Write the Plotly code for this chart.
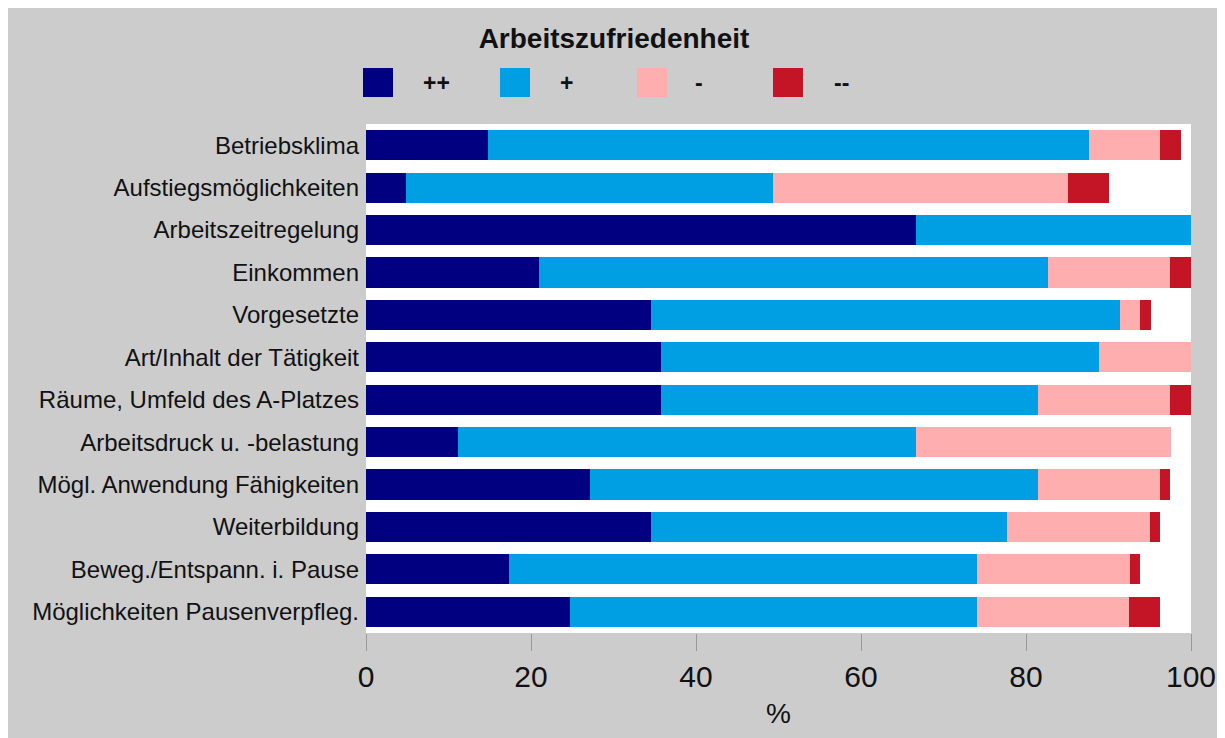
import plotly.graph_objects as go

categories = [
    "Betriebsklima",
    "Aufstiegsmöglichkeiten",
    "Arbeitszeitregelung",
    "Einkommen",
    "Vorgesetzte",
    "Art/Inhalt der Tätigkeit",
    "Räume, Umfeld des A-Platzes",
    "Arbeitsdruck u. -belastung",
    "Mögl. Anwendung Fähigkeiten",
    "Weiterbildung",
    "Beweg./Entspann. i. Pause",
    "Möglichkeiten Pausenverpfleg.",
]

very_good = [14.8, 4.9, 66.7, 21.0, 34.5, 35.8, 35.8, 11.2, 27.2, 34.5, 17.3, 24.7]
good      = [72.8, 44.4, 33.3, 61.7, 56.9, 53.1, 45.7, 55.5, 54.3, 43.2, 56.8, 49.4]
bad       = [8.6, 35.8, 0.0, 14.8, 2.4, 11.1, 16.0, 30.9, 14.7, 17.3, 18.5, 18.4]
very_bad  = [2.6, 5.0, 0.0, 2.5, 1.3, 0.0, 2.5, 0.0, 1.3, 1.3, 1.2, 3.8]

series_names = ["++", "+", "-", "--"]
series_values = [very_good, good, bad, very_bad]
series_colors = ["#000080", "#009FE3", "#FFAEB0", "#C41526"]

x_ticks = [0, 20, 40, 60, 80, 100]

# page body has an 8px margin; figure occupies (8,8)-(1217,738) of the window
OFF = 8
W, H = 1209, 730
L, R, T, B = 366 - OFF, 26, 124 - OFF, 105
PW, PH = W - L - R, H - T - B

def px_x(x):
    return (x - OFF - L) / PW

def px_y(y):
    return (H + OFF - B - y) / PH

FONT = "Liberation Sans, Arial, sans-serif"

fig = go.Figure()
for name, vals, col in zip(series_names, series_values, series_colors):
    fig.add_trace(go.Bar(
        y=categories, x=vals, name=name, orientation="h",
        marker=dict(color=col, line=dict(width=0)),
        showlegend=False,
    ))

shapes = []
annotations = []
legend_left = [363, 500, 637, 773]
legend_label_x = [436, 566, 699, 841]
for i, (name, col) in enumerate(zip(series_names, series_colors)):
    shapes.append(dict(type="rect", xref="paper", yref="paper",
                       x0=px_x(legend_left[i]), x1=px_x(legend_left[i] + 30),
                       y0=px_y(97), y1=px_y(68),
                       fillcolor=col, line=dict(width=0)))
    annotations.append(dict(text="<b>%s</b>" % name, xref="paper", yref="paper",
                            x=px_x(legend_label_x[i]), y=px_y(83),
                            xanchor="center", yanchor="middle", showarrow=False,
                            font=dict(family=FONT, size=23, color="#111111")))

annotations.append(dict(text="%", xref="paper", yref="paper",
                        x=px_x(778), y=px_y(713), xanchor="center", yanchor="middle",
                        showarrow=False, font=dict(family=FONT, size=28, color="#111111")))

fig.update_layout(
    width=W, height=H,
    margin=dict(l=L, r=R, t=T, b=B, pad=0, autoexpand=False),
    barmode="stack",
    bargap=0.29,
    paper_bgcolor="#CCCCCC",
    plot_bgcolor="white",
    title=dict(text="<b>Arbeitszufriedenheit</b>", x=(614 - OFF) / W, xref="container",
               y=1 - (38 - OFF) / H, yref="container", xanchor="center", yanchor="middle",
               font=dict(family=FONT, size=28, color="#111111")),
    shapes=shapes,
    annotations=annotations,
    xaxis=dict(range=[0, 100], tickvals=x_ticks, ticktext=[str(v) for v in x_ticks],
               ticks="outside", ticklen=17, tickwidth=1, tickcolor="#999999",
               showgrid=False, zeroline=False, showline=False, automargin=False,
               tickfont=dict(family=FONT, size=30, color="#111111"),
               fixedrange=True),
    yaxis=dict(categoryorder="array", categoryarray=categories, autorange="reversed",
               showgrid=False, zeroline=False, showline=False, ticks="", automargin=False,
               ticklabelstandoff=6,
               tickfont=dict(family=FONT, size=24, color="#111111")),
    showlegend=False,
)

fig.write_html("out.html")
